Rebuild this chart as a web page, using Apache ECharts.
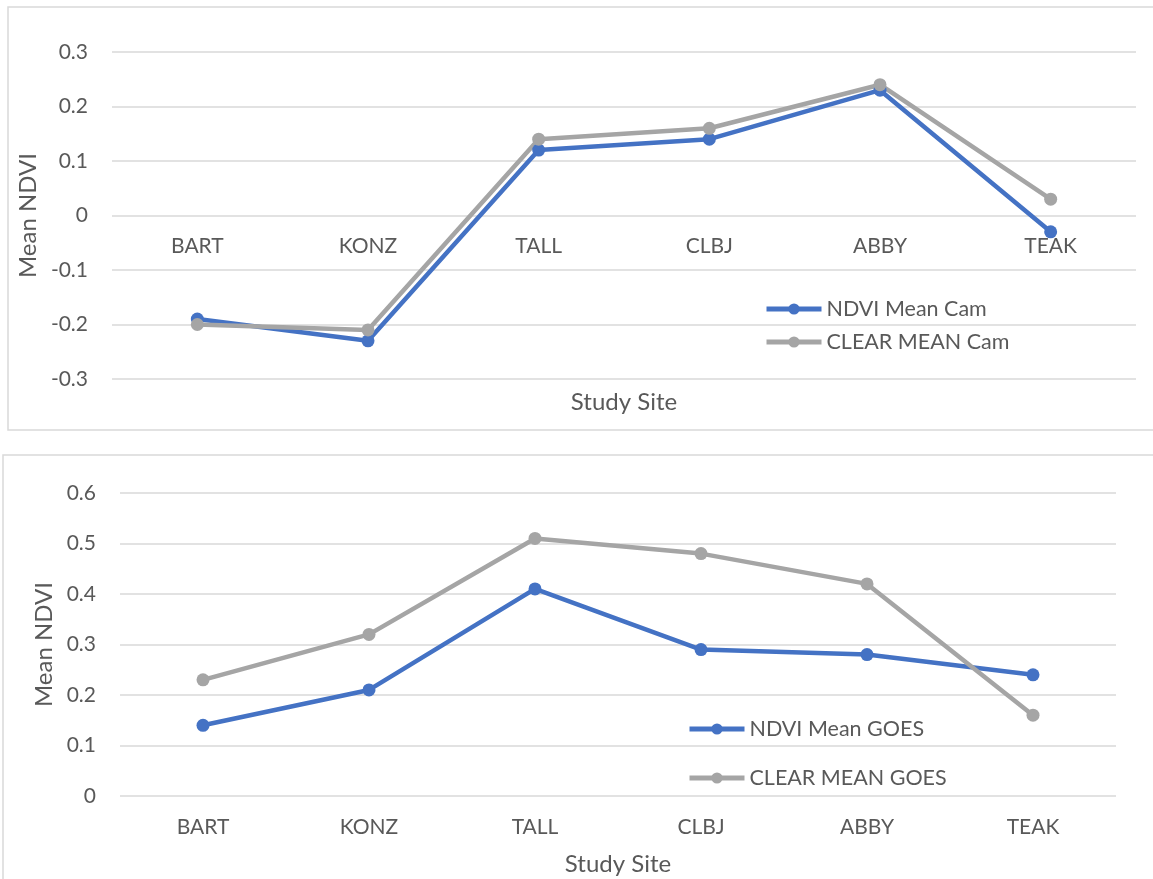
<!DOCTYPE html>
<html>
<head>
<meta charset="utf-8">
<script src="https://cdn.jsdelivr.net/npm/echarts@6/dist/echarts.min.js"></script>
<style>
  html, body { margin: 0; padding: 0; background: #fff; }
  #chart { width: 1153px; height: 879px; }
</style>
</head>
<body>
<div id="chart"></div>
<script>
// study sites on the x axis
const sites = ['BART', 'KONZ', 'TALL', 'CLBJ', 'ABBY', 'TEAK']

// top chart: camera values
const ndviMeanCam = [-0.19, -0.23, 0.12, 0.14, 0.23, -0.03]
const clearMeanCam = [-0.20, -0.21, 0.14, 0.16, 0.24, 0.03]

// bottom chart: GOES values
const ndviMeanGoes = [0.14, 0.21, 0.41, 0.29, 0.28, 0.24]
const clearMeanGoes = [0.23, 0.32, 0.51, 0.48, 0.42, 0.16]

const BLUE = '#4472C4'
const GRAY = '#A5A5A5'
const FONT = 'Lato'
const TXT = '#595959'

const chart = echarts.init(document.getElementById('chart'))

// top grid: value axis -0.3..0.3 over 327px, so zero sits 163px above the bottom
const TOP_GRID = { left: 112, top: 52, width: 1024, height: 327 }
const BOTTOM_GRID = { left: 120, top: 493, width: 996, height: 303 }
const zeroLift = -TOP_GRID.height * (0 - -0.3) / 0.6

const xAxisBase = (gridIndex, margin, offset, nameGap) => ({
	type: 'category',
	gridIndex,
	data: sites,
	boundaryGap: true,
	offset,
	axisLine: { show: false, onZero: false },
	axisTick: { show: false },
	axisLabel: { color: TXT, fontSize: 21, fontFamily: FONT, margin },
	name: 'Study Site',
	nameLocation: 'middle',
	nameGap,
	nameTextStyle: { color: TXT, fontSize: 24, fontFamily: FONT },
})

const yAxisBase = (gridIndex, min, max, nameGap) => ({
	type: 'value',
	gridIndex,
	min,
	max,
	interval: 0.1,
	axisLine: { show: false },
	axisTick: { show: false },
	axisLabel: {
		color: TXT, fontSize: 21, fontFamily: FONT, margin: 24,
		formatter: v => String(Math.round(v * 10) / 10),
	},
	splitLine: { lineStyle: { color: '#d9d9d9', width: 1.5 } },
	name: 'Mean NDVI',
	nameLocation: 'middle',
	nameRotate: 90,
	nameGap,
	nameTextStyle: { color: TXT, fontSize: 24, fontFamily: FONT },
})

const lineSeries = (name, data, color, idx) => ({
	name,
	type: 'line',
	xAxisIndex: idx,
	yAxisIndex: idx,
	data,
	symbol: 'circle',
	symbolSize: 13,
	itemStyle: { color },
	lineStyle: { color, width: 4.5 },
	emphasis: { disabled: true },
})

const legendBase = (names, left, top, itemGap) => ({
	data: names,
	orient: 'vertical',
	left,
	top,
	itemWidth: 55,
	itemHeight: 14,
	itemGap,
	lineStyle: { width: 5 },
	textStyle: { color: TXT, fontSize: 21.5, fontFamily: FONT, lineHeight: 20 },
})

const option = {
	animation: false,
	backgroundColor: '#fff',
	graphic: [
		{ type: 'rect', shape: { x: 8, y: 7, width: 1160, height: 423 }, style: { fill: 'none', stroke: '#d9d9d9', lineWidth: 1.5 } },
		{ type: 'rect', shape: { x: 3, y: 455, width: 1165, height: 440 }, style: { fill: 'none', stroke: '#d9d9d9', lineWidth: 1.5 } },
	],
	grid: [TOP_GRID, BOTTOM_GRID],
	xAxis: [xAxisBase(0, 20, zeroLift, 175), xAxisBase(1, 21, 0, 56)],
	yAxis: [yAxisBase(0, -0.3, 0.3, 70), yAxisBase(1, 0, 0.6, 64)],
	legend: [
		legendBase(['NDVI Mean Cam', 'CLEAR MEAN Cam'], 759, 293, 11),
		legendBase(['NDVI Mean GOES', 'CLEAR MEAN GOES'], 682, 713, 27),
	],
	series: [
		lineSeries('NDVI Mean Cam', ndviMeanCam, BLUE, 0),
		lineSeries('CLEAR MEAN Cam', clearMeanCam, GRAY, 0),
		lineSeries('NDVI Mean GOES', ndviMeanGoes, BLUE, 1),
		lineSeries('CLEAR MEAN GOES', clearMeanGoes, GRAY, 1),
	],
}

chart.setOption(option)
</script>
</body>
</html>
